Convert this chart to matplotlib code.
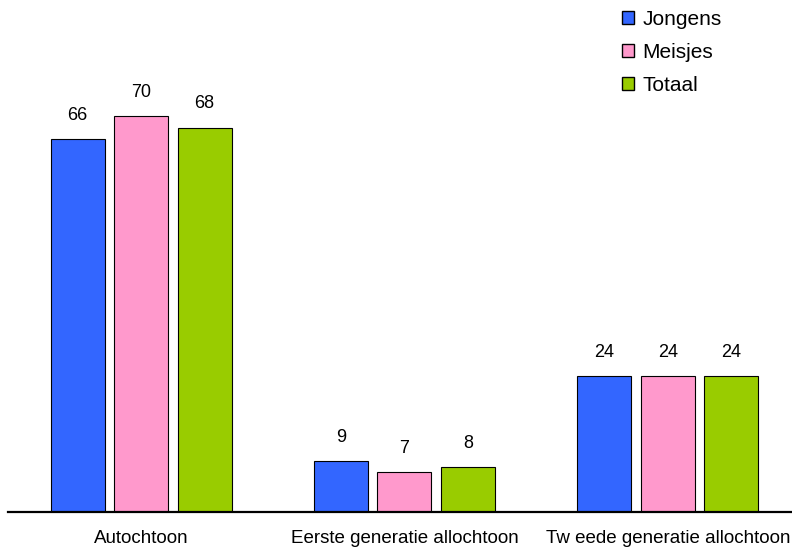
import numpy as np
import matplotlib.pyplot as plt
from matplotlib.patches import Patch

plt.rcParams['font.family'] = ['Liberation Sans', 'DejaVu Sans']

categories = ['Autochtoon', 'Eerste generatie allochtoon', 'Tw eede generatie allochtoon']
series = ['Jongens', 'Meisjes', 'Totaal']
jongens = [66, 9, 24]
meisjes = [70, 7, 24]
totaal = [68, 8, 24]
colors = ['#3366ff', '#ff99cc', '#99cc00']

fig = plt.figure(figsize=(7.92, 5.52), dpi=100)
ax = fig.add_axes([8/792, 40/552, 784/792, 512/552])

x = np.arange(len(categories))
step = 0.241
width = 0.205
for k, (vals, c) in enumerate(zip([jongens, meisjes, totaal], colors)):
    xs = x + (k - 1) * step
    ax.bar(xs, vals, width, color=c, edgecolor='black', linewidth=0.8, zorder=2)
    for xi, v in zip(xs, vals):
        ax.annotate(str(v), (xi, v), xytext=(0, 11), textcoords='offset points',
                    ha='center', va='bottom', fontsize=13)

ax.set_xlim(-0.505, 2.471)
ax.set_ylim(0, 90.6)
ax.axhline(0, color='black', lw=1.6, zorder=3, clip_on=False)
for s in ax.spines.values():
    s.set_visible(False)
ax.set_yticks([])
ax.set_xticks(x)
ax.set_xticklabels(categories, fontsize=13.5)
ax.tick_params(axis='x', length=0, pad=13)

handles = [Patch(facecolor=c, edgecolor='black', linewidth=1.0) for c in colors]
ax.legend(handles, series, loc='upper left', bbox_to_anchor=(595/784, 1.018),
          frameon=False, fontsize=15, handlelength=0.58, handleheight=0.58,
          handletextpad=0.4, labelspacing=0.68)

fig.savefig('out.png', dpi=100)
